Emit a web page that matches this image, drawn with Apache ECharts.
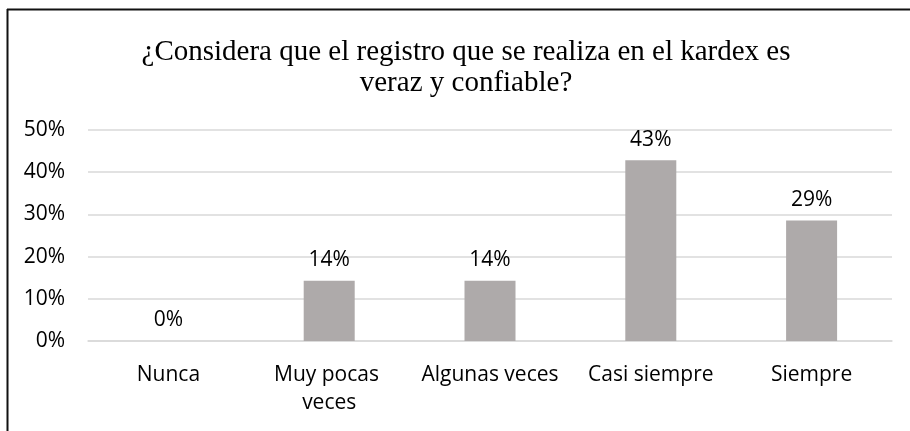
<!DOCTYPE html>
<html>
<head>
<meta charset="utf-8">
<script src="https://cdn.jsdelivr.net/npm/echarts@6/dist/echarts.min.js"></script>
<style>
  html, body { margin: 0; padding: 0; background: #fff; }
  #chart { width: 910px; height: 431px; }
</style>
</head>
<body>
<div id="chart"></div>
<script>
// categorías y porcentajes
const categories = ['Nunca', 'Muy pocas veces', 'Algunas veces', 'Casi siempre', 'Siempre']
const values = [0, 0.1429, 0.1429, 0.4286, 0.2857]
const yTicks = [0, 0.1, 0.2, 0.3, 0.4, 0.5]

const chart = echarts.init(document.getElementById('chart'))

const option = {
  animation: false,
  backgroundColor: '#fff',
  title: {
    text: '¿Considera que el registro que se realiza en el kardex es\nveraz y confiable?',
    left: 461,
    top: 32,
    textAlign: 'center',
    textStyle: {
      fontFamily: 'Liberation Serif',
      fontSize: 29,
      fontWeight: 'normal',
      color: '#000',
      lineHeight: 31
    }
  },
  // marco del gráfico (solo se ven los bordes superior e izquierdo)
  graphic: [
    { type: 'line', shape: { x1: 7.5, y1: 9, x2: 7.5, y2: 431 }, style: { stroke: '#111', lineWidth: 2 } },
    { type: 'line', shape: { x1: 7, y1: 9.5, x2: 910, y2: 9.5 }, style: { stroke: '#111', lineWidth: 2 } }
  ],
  grid: {
    left: 88,
    right: 18,
    top: 130,
    bottom: 90
  },
  xAxis: {
    type: 'category',
    data: categories,
    axisLine: { lineStyle: { color: '#d9d9d9', width: 1.5 } },
    axisTick: { show: false },
    axisLabel: {
      fontFamily: 'Open Sans',
      fontSize: 21,
      color: '#000',
      margin: 20,
      lineHeight: 28,
      width: 140,
      overflow: 'break',
      interval: 0
    }
  },
  yAxis: {
    type: 'value',
    min: 0,
    max: 0.5,
    interval: 0.1,
    axisLine: { show: false },
    axisTick: { show: false },
    splitLine: { lineStyle: { color: '#d9d9d9', width: 1.5 } },
    axisLabel: {
      fontFamily: 'Open Sans',
      fontSize: 21,
      color: '#000',
      margin: 23,
      formatter: v => {
        const t = yTicks.find(k => Math.abs(k - v) < 1e-9)
        return Math.round((t !== undefined ? t : v) * 100) + '%'
      }
    }
  },
  series: [
    {
      type: 'bar',
      data: values,
      barWidth: 51,
      itemStyle: { color: '#aeaaaa' },
      label: {
        show: true,
        position: 'top',
        distance: 10,
        fontFamily: 'Open Sans',
        fontSize: 21,
        color: '#000',
        formatter: p => Math.round(p.value * 100) + '%'
      }
    }
  ]
}

chart.setOption(option)
</script>
</body>
</html>
